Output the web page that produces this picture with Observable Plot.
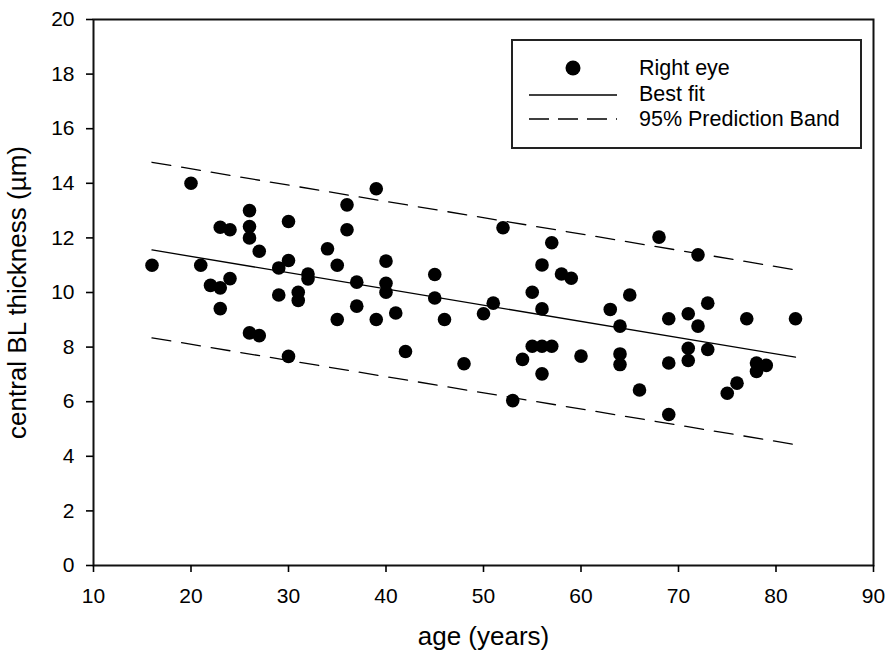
<!DOCTYPE html>
<html>
<head>
<meta charset="utf-8">
<script src="https://cdn.jsdelivr.net/npm/d3@7"></script>
<script src="https://cdn.jsdelivr.net/npm/@observablehq/plot@0.6"></script>
<style>
  html, body { margin: 0; padding: 0; background: #fff; }
  #wrap { position: relative; width: 889px; height: 656px; font-family: "Liberation Sans", Arial, sans-serif; }
  #legend { position: absolute; left: 511px; top: 39px; width: 347px; height: 106px; border: 2px solid #222; background: #fff; box-sizing: content-box; }
  #legend svg { position: absolute; left: 0; top: 0; }
  #legend .t { position: absolute; left: 126px; font-size: 21.5px; color: #000; line-height: 1; }
</style>
</head>
<body>
<div id="wrap"></div>
<script>
// ---- data ----
const ages = [16,20,21,22,23,24,23,24,23,26,26,26,27,26,27,30,30,29,29,30,31,31,32,32,34,35,35,36,36,37,37,39,39,40,40,40,41,42,45,45,46,48,50,51,52,53,54,55,55,56,56,56,56,57,57,58,59,60,63,64,64,64,65,66,68,69,69,69,71,71,71,72,72,73,73,75,76,77,78,78,79,82];
const thickness = [11,14,11,10.26,12.39,12.3,10.17,10.51,9.41,13.0,12.42,12.0,11.51,8.52,8.42,12.6,11.17,10.9,9.91,7.66,10.01,9.71,10.68,10.5,11.6,11.0,9.01,13.21,12.3,10.38,9.5,13.8,9.01,11.15,10.34,10.01,9.25,7.84,10.66,9.8,9.01,7.39,9.22,9.61,12.37,6.04,7.55,10.01,8.03,11.01,9.4,8.03,7.02,11.82,8.03,10.68,10.52,7.67,9.38,8.77,7.75,7.36,9.91,6.43,12.03,9.04,7.42,5.53,9.22,7.96,7.51,11.38,8.77,9.61,7.91,6.31,6.68,9.04,7.42,7.11,7.33,9.04];
const fitAges = [16, 82];
const bestFit = [11.56, 7.63];
const bandUpper = [14.77, 10.83];
const bandLower = [8.34, 4.43];
const xTicks = [10,20,30,40,50,60,70,80,90];
const yTicks = [0,2,4,6,8,10,12,14,16,18,20];
const legendLabels = ["Right eye", "Best fit", "95% Prediction Band"];

const points = ages.map((a, i) => ({age: a, t: thickness[i]}));
const fit = fitAges.map((a, i) => ({age: a, fit: bestFit[i], up: bandUpper[i], lo: bandLower[i]}));

const font = "Liberation Sans, Arial, sans-serif";
const chart = Plot.plot({
  width: 889,
  height: 656,
  marginLeft: 93,
  marginRight: 16,
  marginTop: 19,
  marginBottom: 91,
  style: {fontFamily: font, background: "#fff", color: "#000"},
  x: {domain: [10, 90]},
  y: {domain: [0, 20]},
  marks: [
    Plot.frame({stroke: "#111", strokeWidth: 2}),
    Plot.axisX({ticks: xTicks, tickSize: 7, tickPadding: 16, strokeWidth: 1.6,
      label: "age (years)", labelAnchor: "center", labelOffset: 79, labelArrow: "none"}),
    Plot.axisY({ticks: yTicks, tickSize: 7, tickPadding: 12, strokeWidth: 1.6,
      label: "central BL thickness (µm)", labelAnchor: "center", labelOffset: 86, labelArrow: "none"}),
    Plot.line(fit, {x: "age", y: "up", stroke: "#000", strokeWidth: 1.3, strokeDasharray: "19,11"}),
    Plot.line(fit, {x: "age", y: "lo", stroke: "#000", strokeWidth: 1.3, strokeDasharray: "19,11"}),
    Plot.line(fit, {x: "age", y: "fit", stroke: "#000", strokeWidth: 1.3}),
    Plot.dot(points, {x: "age", y: "t", r: 6.8, fill: "#000", stroke: "none"})
  ]
});
// font sizes for axis texts
chart.querySelectorAll('[aria-label="x-axis tick label"], [aria-label="y-axis tick label"]').forEach(g => g.setAttribute("font-size", 21));
chart.querySelectorAll('[aria-label="x-axis label"], [aria-label="y-axis label"]').forEach(g => g.setAttribute("font-size", 26));

const wrap = document.getElementById("wrap");
wrap.appendChild(chart);

// legend (inside plot area)
const leg = document.createElement("div");
leg.id = "legend";
leg.innerHTML = `
<svg width="347" height="106">
  <circle cx="60" cy="27" r="7.5" fill="#000"/>
  <line x1="16" x2="104" y1="54" y2="54" stroke="#000" stroke-width="1.3"/>
  <line x1="16" x2="104" y1="78" y2="78" stroke="#000" stroke-width="1.3" stroke-dasharray="20,9"/>
</svg>
<div class="t" style="top:17px">${legendLabels[0]}</div>
<div class="t" style="top:43px">${legendLabels[1]}</div>
<div class="t" style="top:68px">${legendLabels[2]}</div>`;
wrap.appendChild(leg);
</script>
</body>
</html>
